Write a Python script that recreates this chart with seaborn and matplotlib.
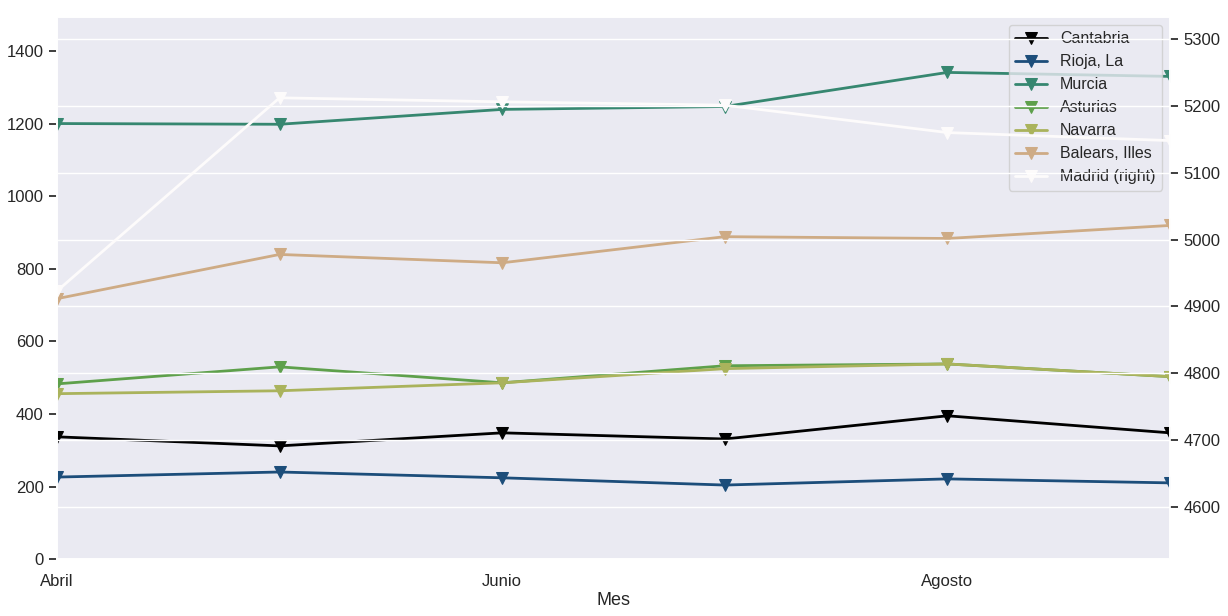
import matplotlib
matplotlib.use('Agg')
import numpy as np
import pandas as pd
import matplotlib.pyplot as plt
import seaborn as sns

meses = ['Abril', 'Mayo', 'Junio', 'Julio', 'Agosto', 'Septiembre']

cantabria = [337, 312, 348, 331, 395, 348]
rioja = [226, 240, 224, 204, 221, 210]
murcia = [1201, 1199, 1240, 1248, 1342, 1331]
asturias = [483, 530, 486, 533, 538, 503]
navarra = [456, 464, 486, 525, 538, 503]
baleares = [718, 840, 817, 889, 884, 920]
madrid = [4923, 5212, 5206, 5201, 5160, 5148]

regiones = ['Cantabria', 'Rioja, La', 'Murcia', 'Asturias', 'Navarra', 'Balears, Illes']
valores = [cantabria, rioja, murcia, asturias, navarra, baleares]

sns.set_theme(style='darkgrid')
plt.rcParams['font.family'] = ['Liberation Sans', 'DejaVu Sans']

colores = plt.get_cmap('gist_earth')(np.linspace(0, 1, 7))

fig = plt.figure(figsize=(12.28, 6.16), dpi=100)
ax = fig.add_axes([0.0464, 0.0925, 0.9064, 0.88])
ax2 = ax.twinx()

handles = []
for nombre, vals, col in zip(regiones, valores, colores[:6]):
    df = pd.DataFrame({'Mes': meses, 'valor': vals})
    sns.lineplot(data=df, x='Mes', y='valor', ax=ax, color=col, marker='v',
                 markersize=8, linewidth=2, markeredgecolor=col, label=nombre,
                 legend=False)
    handles.append(ax.lines[-1])

df_m = pd.DataFrame({'Mes': meses, 'valor': madrid})
sns.lineplot(data=df_m, x='Mes', y='valor', ax=ax2, color=colores[6], marker='v',
             markersize=8, linewidth=2, markeredgecolor=colores[6],
             label='Madrid (right)', legend=False)
handles.append(ax2.lines[-1])

ax.grid(False)
ax.set_ylim(0, 1495)
ax2.set_ylim(4522, 5333)
ax.set_xlim(0, len(meses) - 1)
ax.set_xticks(range(0, len(meses), 2))
ax.set_xticklabels(meses[::2])
ax.set_xlabel('Mes', fontsize=13, labelpad=2)
ax.set_ylabel('')
ax2.set_ylabel('')
ax.set_yticks(range(0, 1401, 200))
ax2.set_yticks(range(4600, 5301, 100))
ax.tick_params(axis='y', left=True, length=6, labelsize=12)
ax.tick_params(axis='x', labelsize=12, length=0, pad=11)
ax2.tick_params(axis='y', right=True, length=6, labelsize=12)

ax.legend(handles=handles, labels=[h.get_label() for h in handles],
          loc='upper right', fontsize=11.5)

fig.savefig('out.png', dpi=100)
